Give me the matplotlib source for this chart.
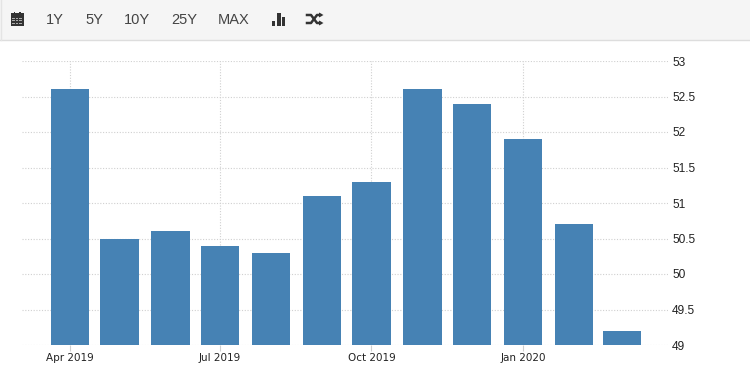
#!/usr/bin/env python3
import matplotlib
matplotlib.use('Agg')
import matplotlib.pyplot as plt
import matplotlib.patches as patches
import matplotlib.dates as mdates
import pandas as pd

months = ["2019-04", "2019-05", "2019-06", "2019-07", "2019-08", "2019-09",
          "2019-10", "2019-11", "2019-12", "2020-01", "2020-02", "2020-03"]
values = [52.6, 50.5, 50.6, 50.4, 50.3, 51.1, 51.3, 52.6, 52.4, 51.9, 50.7, 49.2]
y_ticks = [49, 49.5, 50, 50.5, 51, 51.5, 52, 52.5, 53]
y_labels = ["49", "49.5", "50", "50.5", "51", "51.5", "52", "52.5", "53"]
x_ticks = ["2019-04", "2019-07", "2019-10", "2020-01"]
x_labels = ["Apr 2019", "Jul 2019", "Oct 2019", "Jan 2020"]
buttons = ["1Y", "5Y", "10Y", "25Y", "MAX"]
button_x = [55, 94, 137, 184, 234]

W, H = 750, 375
BAR = "#4682b4"
GRID = "#d0d0d0"

dates = pd.to_datetime(months)
fig = plt.figure(figsize=(W / 100, H / 100), dpi=100, facecolor='white')

# plot area in pixels: x 22..668, y 61..345
ax = fig.add_axes([22 / W, 1 - 345 / H, 646 / W, 284 / H])
ax.set_zorder(2)
ax.bar(dates, values, width=23.2, color=BAR, zorder=3)
ax.set_ylim(49, 53)
# 1.647 px per day, Apr 2019 sits at x=70
start = pd.Timestamp("2019-04-01")
ax.set_xlim(mdates.date2num(start) - 48 / 1.647, mdates.date2num(start) + 598 / 1.647)

ax.set_yticks(y_ticks)
ax.set_yticklabels(y_labels, fontsize=8.6, color='#222222', family='Liberation Sans')
ax.yaxis.tick_right()
ax.tick_params(axis='y', length=0, pad=3)
ax.set_xticks(pd.to_datetime(x_ticks))
ax.set_xticklabels(x_labels, fontsize=7.5, color='#222222', family='DejaVu Sans')
ax.tick_params(axis='x', length=4, width=0.8, color=GRID, pad=2)
ax.grid(True, color=GRID, linestyle=(0, (1, 1.5)), linewidth=0.8, zorder=0)
ax.set_axisbelow(True)
for s in ax.spines.values():
    s.set_visible(False)

# toolbar drawn in pixel coords
ui = fig.add_axes([0, 0, 1, 1])
ui.set_xlim(0, W)
ui.set_ylim(H, 0)
ui.axis('off')
ui.add_patch(patches.Rectangle((0, 0), W, 40, facecolor='#f5f5f5', edgecolor='none'))
ui.plot([0, W], [40, 40], color='#dddddd', lw=1)
ui.plot([0.5, 0.5], [0, 40], color='#e4e4e4', lw=1)
for label, x in zip(buttons, button_x):
    ui.text(x, 20, label, fontsize=10.5, color='#444444', family='Liberation Sans',
            ha='center', va='center')

# calendar icon
ICON = '#333333'
ui.add_patch(patches.Rectangle((10.5, 13), 13, 13, facecolor=ICON, edgecolor='none'))
for gx in (13.5, 17, 20.5):
    for gy in (17.5, 20, 22.5):
        ui.add_patch(patches.Rectangle((gx - 1.1, gy), 2.4, 1.4, facecolor='#aaaaaa', edgecolor='none'))
for gx in (13.5, 19):
    ui.add_patch(patches.Rectangle((gx, 11.8), 1.5, 3, facecolor=ICON, edgecolor='none'))

# bar chart icon
for bx, top in ((272, 20.5), (277.3, 13), (282, 17)):
    ui.add_patch(patches.Rectangle((bx, top), 3.4, 25.8 - top, facecolor=ICON, edgecolor='none'))

# shuffle icon
ui.plot([307, 311, 317, 320], [15, 15, 23, 23], color=ICON, lw=1.8)
ui.plot([307, 311, 317, 320], [23, 23, 15, 15], color=ICON, lw=1.8)
ui.add_patch(patches.Polygon([(319, 12.5), (323.5, 15), (319, 17.5)], facecolor=ICON, edgecolor='none'))
ui.add_patch(patches.Polygon([(319, 20.5), (323.5, 23), (319, 25.5)], facecolor=ICON, edgecolor='none'))

fig.savefig('out.png', dpi=100)
